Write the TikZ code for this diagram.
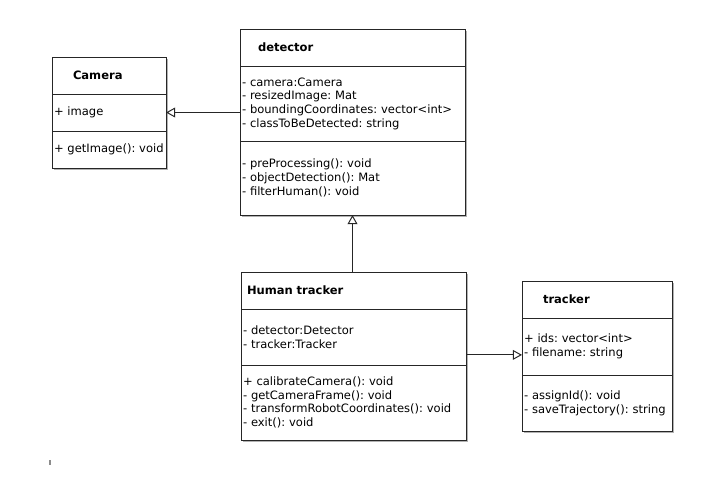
\documentclass[tikz,border=0pt]{standalone}
\usepackage{fontspec}
\setmainfont{DejaVu Sans}
\usetikzlibrary{positioning, arrows.meta, shadows}
\frenchspacing

\tikzset{
  part/.style 2 args={draw=black!85, line width=0.7pt, fill=white, outer sep=0pt,
    inner xsep=0.05cm, inner ysep=0pt, text width=#1, minimum height=#2,
    align=left, font=\fontsize{8.2}{9.7}\selectfont,
    drop shadow={shadow xshift=1.6pt, shadow yshift=-1.6pt, fill=black!30, opacity=1}},
  inherit/.style={draw=black!85, line width=0.7pt, -{Triangle[open, length=6.5pt, width=7pt]}},
}

\begin{document}
\begin{tikzpicture}[]
    \useasboundingbox (0cm,0cm) rectangle (17.55cm,-11.925cm);

    % Camera class
    \node[part={2.75cm}{0.925cm}, anchor=north west] (camT) at (1.30cm,-1.425cm) {\hspace*{0.475cm}\textbf{Camera}};
    \node[part={2.75cm}{0.925cm}, below=0pt of camT] (camA) {+ image};
    \node[part={2.75cm}{0.925cm}, below=0pt of camA] (camM) {+ getImage(): void};

    % detector class
    \node[part={5.525cm}{0.925cm}, anchor=north west] (detT) at (6.0cm,-0.725cm) {\hspace*{0.4cm}\textbf{detector}};
    \node[part={5.525cm}{1.875cm}, below=0pt of detT] (detA) {- camera:Camera\\- resizedImage: Mat\\- boundingCoordinates: vector<int>\\- classToBeDetected: string};
    \node[part={5.525cm}{1.85cm}, below=0pt of detA] (detM) {- preProcessing(): void\\- objectDetection(): Mat\\- filterHuman(): void};

    % Human tracker class
    \node[part={5.525cm}{0.925cm}, anchor=north west] (htT) at (6.025cm,-6.8cm) {\hspace*{0.1cm}\textbf{Human tracker}};
    \node[part={5.525cm}{1.4cm}, below=0pt of htT] (htA) {- detector:Detector\\- tracker:Tracker};
    \node[part={5.525cm}{1.875cm}, below=0pt of htA] (htM) {+ calibrateCamera(): void\\- getCameraFrame(): void\\- transformRobotCoordinates(): void\\- exit(): void};

    % tracker class
    \node[part={3.65cm}{0.925cm}, anchor=north west] (trT) at (13.05cm,-7.025cm) {\hspace*{0.475cm}\textbf{tracker}};
    \node[part={3.65cm}{1.425cm}, below=0pt of trT] (trA) {+ ids: vector<int>\\- filename: string};
    \node[part={3.65cm}{1.4cm}, below=0pt of trA] (trM) {- assignId(): void\\- saveTrajectory(): string};

    % generalisation arrows
    \draw[inherit] (detA.west |- camA.east) -- (camA.east);
    \draw[inherit] (detM.south |- htT.north) -- (detM.south);
    \coordinate (trIn) at ([yshift=-0.21cm]trA.west);
    \draw[inherit] (htA.east |- trIn) -- (trIn);

    % small mark bottom left
    \draw[black!45, line width=0.8pt] (1.25cm,-11.5cm) -- (1.25cm,-11.63cm);
\end{tikzpicture}
\end{document}
